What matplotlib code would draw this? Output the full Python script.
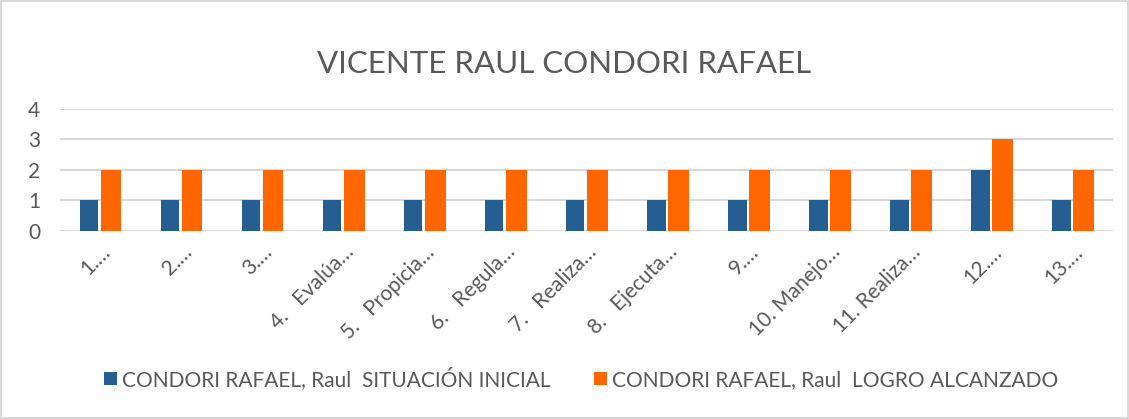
import numpy as np
from matplotlib import pyplot

categories = ["1.…", "2.…", "3.…", "4.   Evalúa…", "5.   Propicia…", "6.   Regula…",
              "7.   Realiza…", "8.   Ejecuta…", "9.…", "10. Manejo…", "11. Realiza…",
              "12.…", "13.…"]
situacion_inicial = [1, 1, 1, 1, 1, 1, 1, 1, 1, 1, 1, 2, 1]
logro_alcanzado = [2, 2, 2, 2, 2, 2, 2, 2, 2, 2, 2, 3, 2]
series_names = ["CONDORI RAFAEL, Raul  SITUACIÓN INICIAL",
                "CONDORI RAFAEL, Raul  LOGRO ALCANZADO"]
y_ticks = [0, 1, 2, 3, 4]


def main() -> None:
    pyplot.rcParams["font.family"] = ["Lato", "DejaVu Sans"]
    text_color = "#595959"

    figure = pyplot.figure(figsize=(11.29, 4.19), dpi=100)
    figure.patch.set_edgecolor("#d9d9d9")
    figure.patch.set_linewidth(1.5)
    axes = figure.add_axes([0.053, 0.4487, 0.933, 0.2913])

    x = np.arange(len(categories))
    width = 0.23
    axes.bar(x - 0.14, situacion_inicial, width, color="#255e91", label=series_names[0], zorder=3)
    axes.bar(x + 0.135, logro_alcanzado, width + 0.02, color="#ff6600", label=series_names[1], zorder=3)

    axes.set_xlim(-0.5, len(categories) - 0.5)
    axes.set_ylim(0, 4)
    axes.set_yticks(y_ticks)
    axes.yaxis.grid(True, color="#d9d9d9", linewidth=1.5, zorder=0)
    for spine in axes.spines.values():
        spine.set_visible(False)
    axes.tick_params(axis="both", length=0, colors=text_color, labelsize=15)
    axes.tick_params(axis="y", pad=14)
    axes.set_xticks(x)
    axes.set_xticklabels(categories, rotation=45, ha="right", rotation_mode="anchor")
    axes.tick_params(axis="x", pad=8)

    figure.suptitle("VICENTE RAUL CONDORI RAFAEL", y=0.88, fontsize=22.5, color=text_color)
    figure.legend(loc="lower center", bbox_to_anchor=(0.515, 0.025), ncol=2, frameon=False,
                  fontsize=15, labelcolor=text_color, handlelength=0.6, handleheight=0.6,
                  columnspacing=2.1, handletextpad=0.25)

    figure.savefig("out.png", dpi=100)


if __name__ == "__main__":
    main()
